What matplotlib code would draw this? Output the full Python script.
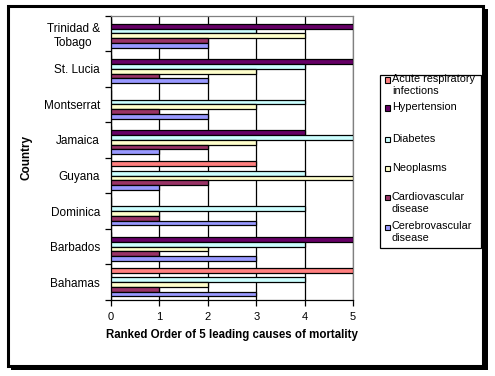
import numpy as np
import matplotlib.pyplot as plt
from matplotlib.patches import Rectangle

plt.rcParams['font.family'] = ['Liberation Sans', 'DejaVu Sans']

# Data (bottom to top on the chart)
countries = ['Bahamas', 'Barbados', 'Dominica', 'Guyana', 'Jamaica',
             'Montserrat', 'St. Lucia', 'Trinidad &\nTobago']
acute_resp = [5, 0, 0, 3, 0, 0, 0, 0]
hypertension = [0, 5, 0, 0, 4, 0, 5, 5]
diabetes = [4, 4, 4, 4, 5, 4, 4, 3]
neoplasms = [2, 2, 1, 5, 3, 3, 3, 4]
cardiovascular = [1, 1, 1, 2, 2, 1, 1, 2]
cerebrovascular = [3, 3, 3, 1, 1, 2, 2, 2]

series = [acute_resp, hypertension, diabetes, neoplasms, cardiovascular, cerebrovascular]
names = ['Acute respiratory\ninfections', 'Hypertension', 'Diabetes', 'Neoplasms',
         'Cardiovascular\ndisease', 'Cerebrovascular\ndisease']
colors = ['#FF8080', '#660066', '#CCFFFF', '#FFFFCC', '#993366', '#9999FF']

W, H = 495, 376
fig = plt.figure(figsize=(W / 100, H / 100), dpi=100)


def px(x, y):
    # pixel coords (top-left origin) -> figure fraction
    return x / W, 1 - y / H


# outer frame with shadow
fig.patches.append(Rectangle(px(11, 370), 477 / W, 361 / H, transform=fig.transFigure,
                             facecolor='black', edgecolor='none', zorder=-2))
fig.patches.append(Rectangle(px(8, 366), 475 / W, 360 / H, transform=fig.transFigure,
                             facecolor='white', edgecolor='black', lw=2.2, zorder=-1))

ax = fig.add_axes([111 / W, 1 - 300 / H, 242 / W, 284.5 / H])

y = np.arange(len(countries))
h = 0.8 / len(series)
for k, (vals, c) in enumerate(zip(series, colors)):
    ax.barh(y + 0.4 - (k + 0.5) * h, vals, height=h, color=c,
            edgecolor='black', linewidth=0.9, zorder=3)

ax.set_xlim(0, 5)
ax.set_ylim(-0.5, len(countries) - 0.5)
ax.set_xticks(range(6))
ax.tick_params(axis='x', direction='out', length=4, width=0.9, labelsize=8, pad=4.5)
ax.xaxis.grid(True, color='black', linewidth=0.9, zorder=1)

ax.set_yticks(np.arange(len(countries) + 1) - 0.5)
ax.set_yticklabels([])
ax.set_yticks(y, minor=True)
ax.set_yticklabels(countries, minor=True, fontsize=8.5, multialignment='center',
                   linespacing=1.3)
ax.tick_params(axis='y', which='major', direction='out', length=4, width=0.9)
ax.tick_params(axis='y', which='minor', length=0, pad=8)

for s in ['top', 'right']:
    ax.spines[s].set_color('#808080')
    ax.spines[s].set_linewidth(0.9)
for s in ['left', 'bottom']:
    ax.spines[s].set_color('black')
    ax.spines[s].set_linewidth(0.9)

ax.set_xlabel('Ranked Order of 5 leading causes of mortality', fontsize=8.3,
              fontweight='bold', labelpad=5)
ax.set_ylabel('Country', fontsize=8.5, fontweight='bold', labelpad=8)

# legend box
fig.patches.append(Rectangle(px(380, 248), 101 / W, 173 / H, transform=fig.transFigure,
                             facecolor='white', edgecolor='black', lw=0.9, zorder=2))
legend_y = [80, 108, 139, 168, 197, 227]
for name, c, ly in zip(names, colors, legend_y):
    fig.patches.append(Rectangle(px(385, ly + 2.5), 5 / W, 5 / H, transform=fig.transFigure,
                                 facecolor=c, edgecolor='black', lw=0.8, zorder=3))
    fig.text(*px(392, ly - 5.5), name, fontsize=7.8, va='top', ha='left',
             linespacing=1.25, zorder=4)

fig.savefig('out.png', dpi=100)
